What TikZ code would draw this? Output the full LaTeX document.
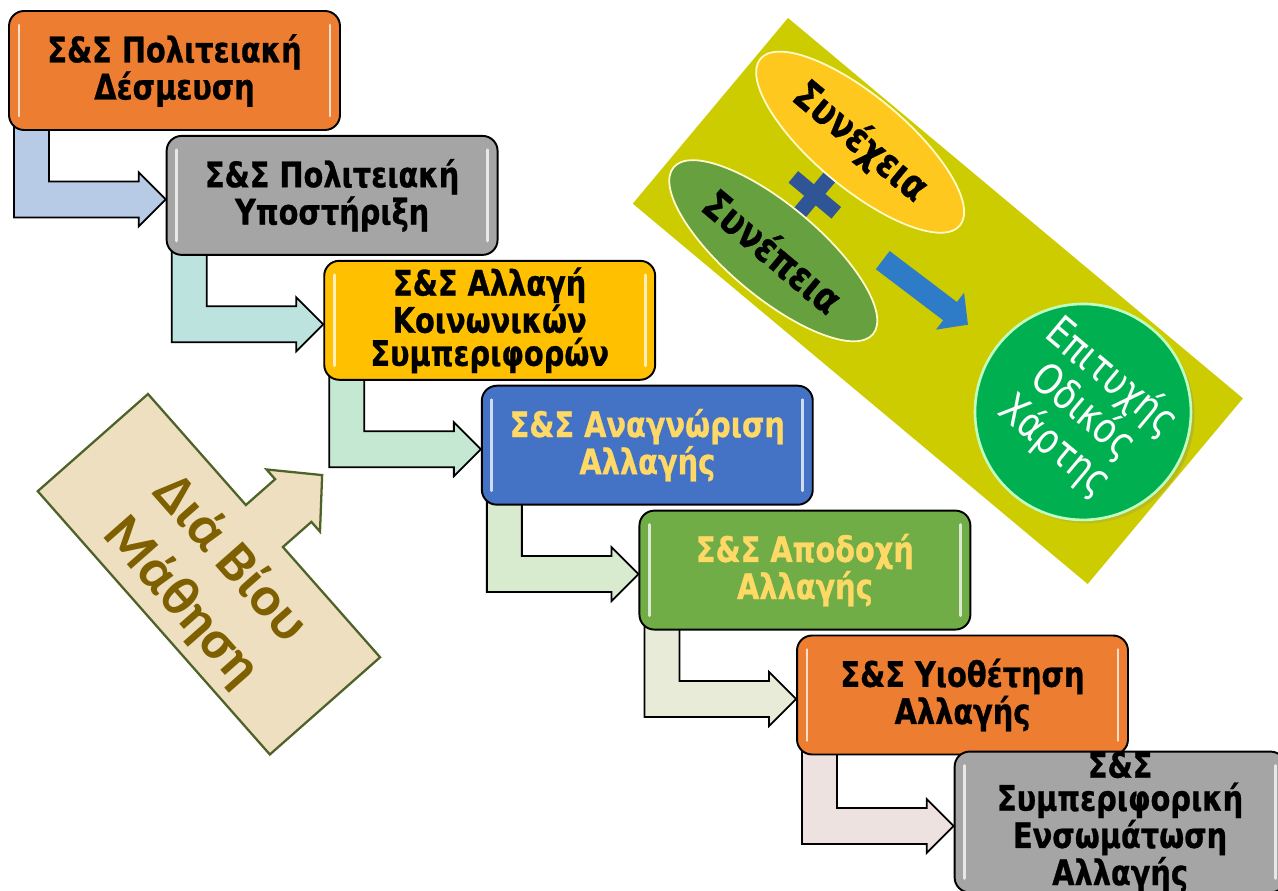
\documentclass[tikz,border=0pt]{standalone}
\usepackage{fontspec}
\newfontfamily\boxfont{DejaVu Sans}[FakeStretch=0.82, BoldFeatures={FakeBold=0.8}]
\newfontfamily\calfont{Carlito}
\usetikzlibrary{calc,shapes.geometric,backgrounds,arrows.meta,shadows}

\definecolor{stOrange}{HTML}{ED7D31}
\definecolor{stGray}{HTML}{A5A5A5}
\definecolor{stGold}{HTML}{FFC000}
\definecolor{stBlue}{HTML}{4472C4}
\definecolor{stGreen}{HTML}{70AD47}
\definecolor{stText}{HTML}{FFD966}
\definecolor{arA}{HTML}{B7CAE6}
\definecolor{arB}{HTML}{BCE3DE}
\definecolor{arC}{HTML}{C5E8D3}
\definecolor{arD}{HTML}{D9EBCF}
\definecolor{arE}{HTML}{E9EBD9}
\definecolor{arF}{HTML}{EEE2E0}
\definecolor{panel}{HTML}{CCCC00}
\definecolor{ellYellow}{HTML}{FFC81E}
\definecolor{ellGreen}{HTML}{66A03F}
\definecolor{roadGreen}{HTML}{00B050}
\definecolor{plusBlue}{HTML}{2F5597}
\definecolor{arrBlue}{HTML}{2E7BC8}
\definecolor{parch}{HTML}{EDDFC0}
\definecolor{parchLine}{HTML}{4F6228}
\definecolor{lifeText}{HTML}{7F6000}

\newcommand{\bentarrow}[3]{%
  \coordinate (s) at ($(#1.south west)+(6,6)$);
  \coordinate (t) at ($(#2.west)+(0,-4)$);
  \coordinate (hb) at ($(t)+(-27,-18)$);
  \coordinate (ht) at ($(t)+(-27,18)$);
  \filldraw[bent, fill=#3] (s) -- (s |- hb) -- (hb) -- ($(t)+(-27,-27)$) -- (t)
    -- ($(t)+(-27,27)$) -- (ht) -- ($(s |- ht)+(35,0)$) -- ($(s)+(35,0)$) -- cycle;
}

\begin{document}
\begin{tikzpicture}[x=0.02cm, y=0.02cm,
  stage/.style={draw=black, line width=1.1pt, rounded corners=0.3cm,
    minimum width=6.62cm, minimum height=2.38cm, inner sep=0pt, align=center,
    font=\boxfont\bfseries\fontsize{20}{18.8}\selectfont,
    path picture={\draw[white, opacity=.75, line width=1.6pt, line cap=round]
      ($(path picture bounding box.north west)+(10,-14)$) -- ($(path picture bounding box.south west)+(10,14)$)
      ($(path picture bounding box.north east)+(-10,-14)$) -- ($(path picture bounding box.south east)+(-10,14)$);}},
  bent/.style={draw=black, line width=1pt},
  oval/.style={ellipse, draw=white!80!yellow, line width=1pt, transform shape,
    minimum width=5.2cm, minimum height=1.84cm, inner sep=0pt,
    font=\boxfont\bfseries\fontsize{23}{23}\selectfont},
  goal/.style={circle, fill=roadGreen, draw=white!75!green, line width=1.5pt,
    transform shape, minimum size=4.32cm, inner sep=0pt, align=center, text=white,
    circular drop shadow={shadow scale=1, shadow xshift=2pt, shadow yshift=-2pt, opacity=.35},
    font=\boxfont\fontsize{24}{22.5}\selectfont}]
\useasboundingbox (0,0) rectangle (1278,-891);
\clip (0,0) rectangle (1278,-891);

\node[stage, fill=stOrange] (st1) at (174.5,-70.5) {Σ\&Σ Πολιτειακή\\Δέσμευση};
\node[stage, fill=stGray] (st2) at (332.1,-195.4) {Σ\&Σ Πολιτειακή\\Υποστήριξη};
\node[stage, fill=stGold] (st3) at (489.7,-320.3) {Σ\&Σ Αλλαγή\\Κοινωνικών\\Συμπεριφορών};
\node[stage, fill=stBlue, text=stText] (st4) at (647.3,-445.2) {Σ\&Σ Αναγνώριση\\Αλλαγής};
\node[stage, fill=stGreen, text=stText] (st5) at (804.9,-570.1) {Σ\&Σ Αποδοχή\\Αλλαγής};
\node[stage, fill=stOrange] (st6) at (962.5,-695) {Σ\&Σ Υιοθέτηση\\Αλλαγής};
\node[stage, fill=stGray] (st7) at (1120.1,-822) {Σ\&Σ\\Συμπεριφορική\\Ενσωμάτωση\\Αλλαγής};

\begin{pgfonlayer}{background}
\bentarrow{st1}{st2}{arA}
\bentarrow{st2}{st3}{arB}
\bentarrow{st3}{st4}{arC}
\bentarrow{st4}{st5}{arD}
\bentarrow{st5}{st6}{arE}
\bentarrow{st6}{st7}{arF}
\end{pgfonlayer}

\begin{scope}[shift={(788,-18)}, rotate=-39.9]
\fill[panel] (0,0) rectangle (593,-242);
\fill[plusBlue] (106,-126) rectangle (162,-111);
\fill[plusBlue] (126.5,-146.5) rectangle (141.5,-90.5);
\node[oval, fill=ellYellow] (cont) at (135,-49) {Συνέχεια};
\node[oval, fill=ellGreen] (cons) at (138,-188) {Συνέπεια};
\node[goal] (road) at (479,-113) {Επιτυχής\\Οδικός\\Χάρτης};
\coordinate (sum) at (228,-125);
\draw[arrBlue, line width=13pt, -{Triangle[length=0.45cm, width=0.9cm]}, shorten >=0.7cm] (sum) -- (road);
\end{scope}

\begin{scope}[shift={(148,-394)}, rotate=-48.6]
\filldraw[fill=parch, draw=parchLine, line width=1.3pt] (0,0) -- (148,0) -- (148,39) -- (135,39)
  -- (176,77) -- (217,38) -- (204,38) -- (204,0) -- (351,0) -- (351,-147) -- (0,-147) -- cycle;
\node[transform shape, text=lifeText, align=center,
  font=\calfont\bfseries\fontsize{32}{37}\selectfont] (life) at (178,-80) {Διά Βίου\\Μάθηση};
\end{scope}
\end{tikzpicture}
\end{document}
